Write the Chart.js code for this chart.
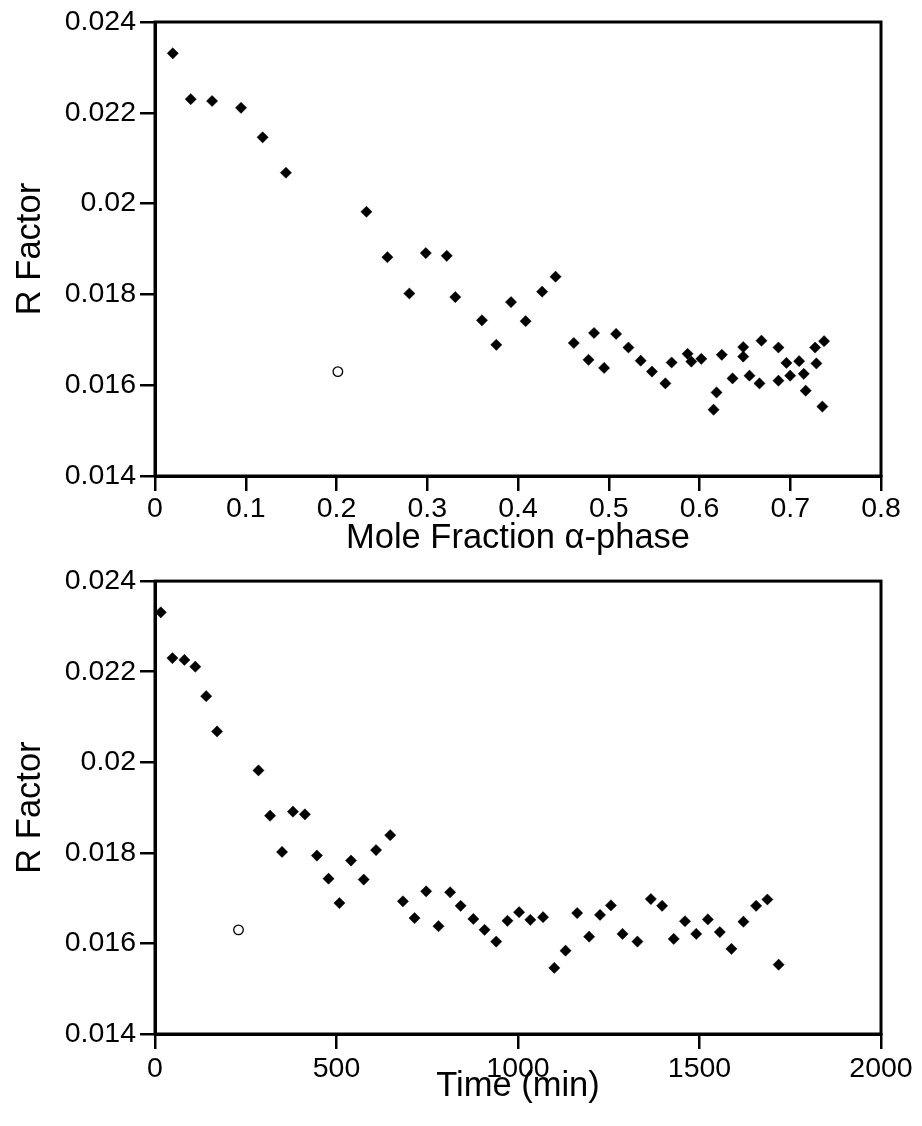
<!DOCTYPE html>
<html>
<head>
<meta charset="utf-8">
<script src="https://cdn.jsdelivr.net/npm/chart.js@4/dist/chart.umd.min.js"></script>
<style>
  html, body { margin: 0; padding: 0; background: #fff; }
  #wrap { position: relative; width: 922px; height: 1126px; }
  .panel { position: absolute; left: 0; width: 922px; }
  #top { top: 0; height: 560px; }
  #bottom { top: 560px; height: 566px; }
</style>
</head>
<body>
<div id="wrap">
  <div class="panel" id="top"><canvas id="fracChart" width="922" height="560"></canvas></div>
  <div class="panel" id="bottom"><canvas id="timeChart" width="922" height="566"></canvas></div>
</div>
<script>
// Refinement R factor for each pattern, with the matching alpha-phase mole fraction and elapsed time
const rFactor = [
  0.02331, 0.02230, 0.02226, 0.02211, 0.02146, 0.02068, 0.01982, 0.01882, 0.01802, 0.01891,
  0.01885, 0.01794, 0.01743, 0.01689, 0.01783, 0.01741, 0.01806, 0.01839, 0.01693, 0.01656,
  0.01715, 0.01638, 0.01713, 0.01683, 0.01654, 0.01630, 0.01604, 0.01650, 0.01669, 0.01652,
  0.01658, 0.01546, 0.01584, 0.01667, 0.01615, 0.01663, 0.01684, 0.01621, 0.01604, 0.01698,
  0.01683, 0.01610, 0.01649, 0.01621, 0.01653, 0.01625, 0.01588, 0.01648, 0.01683, 0.01697,
  0.01553
];
const molFraction = [
  0.0196, 0.0394, 0.0629, 0.0948, 0.1186, 0.1443, 0.2330, 0.2561, 0.2803, 0.2984,
  0.3215, 0.3309, 0.3603, 0.3761, 0.3923, 0.4084, 0.4266, 0.4414, 0.4615, 0.4777,
  0.4838, 0.4949, 0.5081, 0.5217, 0.5352, 0.5476, 0.5624, 0.5693, 0.5869, 0.5910,
  0.6020, 0.6155, 0.6188, 0.6246, 0.6364, 0.6482, 0.6482, 0.6551, 0.6661, 0.6683,
  0.6870, 0.6870, 0.6958, 0.6999, 0.7098, 0.7149, 0.7170, 0.7288, 0.7274, 0.7373,
  0.7354
];
const timeMin = [
  16, 48, 81, 111, 141, 171, 285, 317, 350, 380,
  413, 446, 478, 508, 540, 575, 609, 648, 683, 715,
  747, 781, 813, 842, 877, 908, 940, 971, 1003, 1034,
  1069, 1100, 1131, 1163, 1196, 1226, 1256, 1288, 1329, 1366,
  1397, 1429, 1460, 1491, 1523, 1556, 1588, 1621, 1656, 1687,
  1718
];

// Single pattern plotted with an open symbol
const outlierR = [0.0163];
const outlierMolFraction = [0.2015];
const outlierTime = [230];

// Axis tick values
const rTicks = [0.014, 0.016, 0.018, 0.020, 0.022, 0.024];
const fractionTicks = [0, 0.1, 0.2, 0.3, 0.4, 0.5, 0.6, 0.7, 0.8];
const timeTicks = [0, 500, 1000, 1500, 2000];

const FONT = '"Liberation Sans", Arial, Helvetica, sans-serif';
Chart.defaults.font.family = FONT;
Chart.defaults.color = '#000';

function pairs(xs, ys) {
  return xs.map((x, i) => ({ x: x, y: ys[i] }));
}

function fixedTicks(values) {
  return function (scale) {
    scale.ticks = values.map(v => ({ value: v }));
  };
}

// Closed frame around the plotting area
const framePlugin = {
  id: 'frame',
  afterDraw(chart) {
    const { ctx, chartArea: a } = chart;
    ctx.save();
    ctx.strokeStyle = '#000';
    ctx.lineWidth = 3;
    ctx.strokeRect(a.left, a.top, a.right - a.left, a.bottom - a.top);
    ctx.restore();
  }
};

function makeChart(canvasId, xs, outX, xTicks, xLabel, xFormat, cfg) {
  const axisGrid = {
    display: true,
    drawOnChartArea: false,
    drawTicks: true,
    tickLength: 15,
    tickWidth: 2.5,
    tickColor: '#000',
    color: '#000',
    lineWidth: 2.5
  };
  return new Chart(document.getElementById(canvasId), {
    type: 'scatter',
    data: {
      datasets: [
        {
          data: pairs(xs, rFactor),
          pointStyle: 'rectRot',
          pointRadius: 5.6,
          pointHoverRadius: 5.6,
          backgroundColor: '#000',
          borderColor: '#000',
          borderWidth: 0.5
        },
        {
          data: pairs(outX, outlierR),
          pointStyle: 'circle',
          pointRadius: 4.8,
          pointHoverRadius: 4.8,
          backgroundColor: '#fff',
          borderColor: '#000',
          borderWidth: 1.3
        }
      ]
    },
    options: {
      responsive: false,
      animation: false,
      events: [],
      layout: { padding: { left: 0, right: 41, top: cfg.top, bottom: 0 } },
      plugins: { legend: { display: false }, tooltip: { enabled: false } },
      scales: {
        x: {
          type: 'linear',
          min: xTicks[0],
          max: xTicks[xTicks.length - 1],
          afterBuildTicks: fixedTicks(xTicks),
          afterFit(scale) { scale.height = cfg.xHeight; },
          grid: axisGrid,
          border: { display: true, color: '#000', width: 3 },
          ticks: {
            font: { size: 28.5 },
            color: '#000',
            padding: cfg.tickPad,
            maxRotation: 0,
            autoSkip: false,
            callback: xFormat
          },
          title: {
            display: true,
            text: xLabel,
            font: { size: 34.5 },
            color: '#000',
            padding: { top: 0, bottom: cfg.titlePad }
          }
        },
        y: {
          type: 'linear',
          min: 0.014,
          max: 0.024,
          afterBuildTicks: fixedTicks(rTicks),
          afterFit(scale) { scale.width = 155; },
          grid: axisGrid,
          border: { display: true, color: '#000', width: 3 },
          ticks: {
            font: { size: 28.5 },
            color: '#000',
            padding: 4,
            autoSkip: false,
            callback: v => String(+v.toFixed(3))
          },
          title: {
            display: true,
            text: 'R Factor',
            font: { size: 34.5 },
            color: '#000',
            padding: { top: 10, bottom: 0 }
          }
        }
      }
    },
    plugins: [framePlugin]
  });
}

makeChart('fracChart', molFraction, outlierMolFraction, fractionTicks,
  'Mole Fraction \u03b1-phase', v => String(+v.toFixed(1)),
  { top: 22, xHeight: 84, titlePad: 1, tickPad: 1 });

makeChart('timeChart', timeMin, outlierTime, timeTicks,
  'Time (min)', v => String(Math.round(v)),
  { top: 19, xHeight: 92, titlePad: 19, tickPad: 3 });
</script>
</body>
</html>
